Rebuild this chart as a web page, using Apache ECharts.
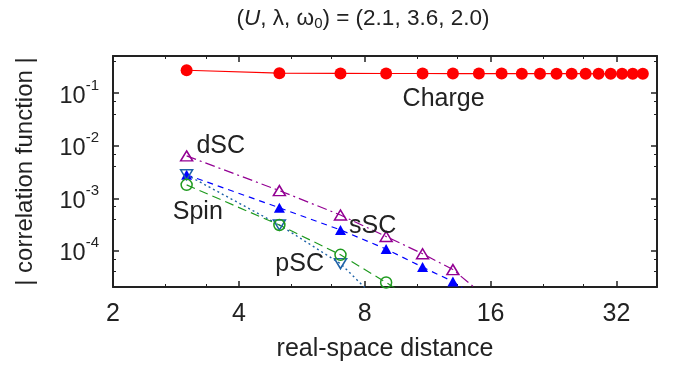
<!DOCTYPE html>
<html>
<head>
<meta charset="utf-8">
<script src="https://cdn.jsdelivr.net/npm/echarts@6.0.0/dist/echarts.min.js"></script>
<style>
  html, body { margin: 0; padding: 0; background: #fff; }
  #main { width: 673px; height: 372px; }
</style>
</head>
<body>
<div id="main"></div>
<script>
const chartDom = document.getElementById('main');
const chart = echarts.init(chartDom);

const FONT = '"Liberation Sans", Arial, Helvetica, sans-serif';
const INK = '#222';

// distances
const chargeX = [3, 5, 7, 9, 11, 13, 15, 17, 19, 21, 23, 25, 27, 29, 31, 33, 35, 37];
const shortX = [3, 5, 7, 9, 11, 13, 15];

// |correlation| values
const chargeY = [0.273, 0.240, 0.238, 0.237, 0.237, 0.236, 0.236, 0.236, 0.235, 0.235, 0.235, 0.235, 0.235, 0.234, 0.234, 0.234, 0.234, 0.234];
const dscY = [6.4e-3, 1.40e-3, 4.8e-4, 1.87e-4, 8.8e-5, 4.4e-5, 1.7e-5];
const sscY = [2.8e-3, 6.6e-4, 2.5e-4, 1.08e-4, 4.9e-5, 2.6e-5, 1.2e-5];
const pscY = [2.8e-3, 3.1e-4, 5.7e-5, 8e-6];
const spinY = [1.8e-3, 3.1e-4, 8.4e-5, 2.5e-5, 9e-6];

// tick labels
const xTicks = [2, 4, 8, 16, 32];
const yTickExp = [-4, -3, -2, -1];

// in-plot labels [x, y, text]
const notes = [
  [12.35, 0.077, 'Charge'],
  [3.62, 9.9e-3, 'dSC'],
  [3.19, 5.5e-4, 'Spin'],
  [8.36, 3.0e-4, 'sSC'],
  [5.59, 5.5e-5, 'pSC'],
];

const pairs = (xs, ys) => ys.map((y, i) => [xs[i], y]);

const xRange = [2, 40];
const yRange = [2.05e-5, 0.51];

const baseX = {
  type: 'log',
  logBase: 2,
  min: xRange[0],
  max: xRange[1],
  axisLine: { show: true, lineStyle: { color: INK, width: 2 } },
  axisTick: { inside: true, length: 6, lineStyle: { color: INK, width: 1.5 } },
  minorTick: { show: true, splitNumber: 3, length: 3, lineStyle: { color: INK, width: 1 } },
  splitLine: { show: false },
};
const baseY = {
  type: 'log',
  logBase: 10,
  min: yRange[0],
  max: yRange[1],
  axisLine: { show: true, lineStyle: { color: INK, width: 2 } },
  axisTick: { inside: true, length: 6, lineStyle: { color: INK, width: 1.5 } },
  minorTick: { show: true, splitNumber: 3, length: 3, lineStyle: { color: INK, width: 1 } },
  splitLine: { show: false },
};

const option = {
  animation: false,
  backgroundColor: '#fff',
  title: {
    text: '({i|U}, λ, ω{sub|0}) = (2.1, 3.6, 2.0)',
    left: 358,
    top: 2,
    textAlign: 'center',
    textStyle: {
      fontFamily: FONT,
      fontSize: 22.5,
      fontWeight: 'normal',
      color: INK,
      rich: {
        i: { fontFamily: FONT, fontSize: 22.5, fontStyle: 'italic', color: INK },
        sub: { fontFamily: FONT, fontSize: 15, color: INK, verticalAlign: 'bottom', padding: [9, 0, 0, 0] },
      },
    },
  },
  grid: { left: 113, right: 16, top: 56, bottom: 85 },
  xAxis: [
    {
      ...baseX,
      position: 'bottom',
      name: 'real-space distance',
      nameLocation: 'middle',
      nameGap: 50,
      nameTextStyle: { fontFamily: FONT, fontSize: 25, color: INK },
      axisLabel: {
        margin: 15,
        fontFamily: FONT,
        fontSize: 25,
        color: INK,
        formatter: v => (xTicks.some(t => Math.abs(t - v) < 1e-6) ? String(Math.round(v)) : ''),
      },
    },
    {
      ...baseX,
      position: 'top',
      axisLabel: { show: false },
    },
  ],
  yAxis: [
    {
      ...baseY,
      position: 'left',
      name: '| correlation function |',
      nameLocation: 'middle',
      nameGap: 76,
      nameTextStyle: { fontFamily: FONT, fontSize: 24, color: INK },
      axisLabel: {
        margin: 14,
        fontFamily: FONT,
        fontSize: 23,
        color: INK,
        formatter: v => {
          const e = Math.round(Math.log10(v));
          if (Math.abs(Math.log10(v) - e) > 1e-6 || !yTickExp.includes(e)) return '';
          return '{b|10}{s|' + e + '}';
        },
        rich: {
          b: { fontFamily: FONT, fontSize: 23.5, color: INK, padding: [6, 0, 0, 0] },
          s: { fontFamily: FONT, fontSize: 15, color: INK, verticalAlign: 'top', padding: [0, 0, 8, 0] },
        },
      },
    },
    {
      ...baseY,
      position: 'right',
      axisLabel: { show: false },
    },
  ],
  series: [
    {
      name: 'Charge',
      type: 'line',
      data: pairs(chargeX, chargeY),
      symbol: 'circle',
      symbolSize: 12,
      itemStyle: { color: '#ff0000' },
      lineStyle: { color: '#ff0000', width: 1.2 },
      markPoint: {
        symbol: 'circle',
        symbolSize: 0,
        label: {
          show: true,
          position: 'inside',
          fontFamily: FONT,
          fontSize: 25,
          color: INK,
          formatter: p => p.name,
        },
        data: notes.map(([x, y, t]) => ({ name: t, coord: [x, y] })),
      },
    },
    {
      name: 'dSC',
      type: 'line',
      data: pairs(shortX, dscY),
      symbol: 'triangle',
      symbolSize: [12, 10],
      itemStyle: { color: 'transparent', borderColor: '#930093', borderWidth: 1.5 },
      lineStyle: { color: '#930093', width: 1.2, type: [10, 4, 2, 4] },
    },
    {
      name: 'sSC',
      type: 'line',
      data: pairs(shortX, sscY),
      symbol: 'triangle',
      symbolSize: [11, 10],
      itemStyle: { color: '#0000ff' },
      lineStyle: { color: '#0000ff', width: 1.2, type: [6, 5] },
    },
    {
      name: 'pSC',
      type: 'line',
      data: pairs(shortX, pscY),
      symbol: 'triangle',
      symbolRotate: 180,
      symbolSize: [12, 10],
      itemStyle: { color: 'transparent', borderColor: '#1f63a8', borderWidth: 1.5 },
      lineStyle: { color: '#1f63a8', width: 1.4, type: [2, 3] },
    },
    {
      name: 'Spin',
      type: 'line',
      data: pairs(shortX, spinY),
      symbol: 'circle',
      symbolSize: 11,
      itemStyle: { color: 'transparent', borderColor: '#1f9a1f', borderWidth: 1.5 },
      lineStyle: { color: '#1f9a1f', width: 1.2, type: [9, 5] },
    },
  ],
};

chart.setOption(option);
</script>
</body>
</html>
